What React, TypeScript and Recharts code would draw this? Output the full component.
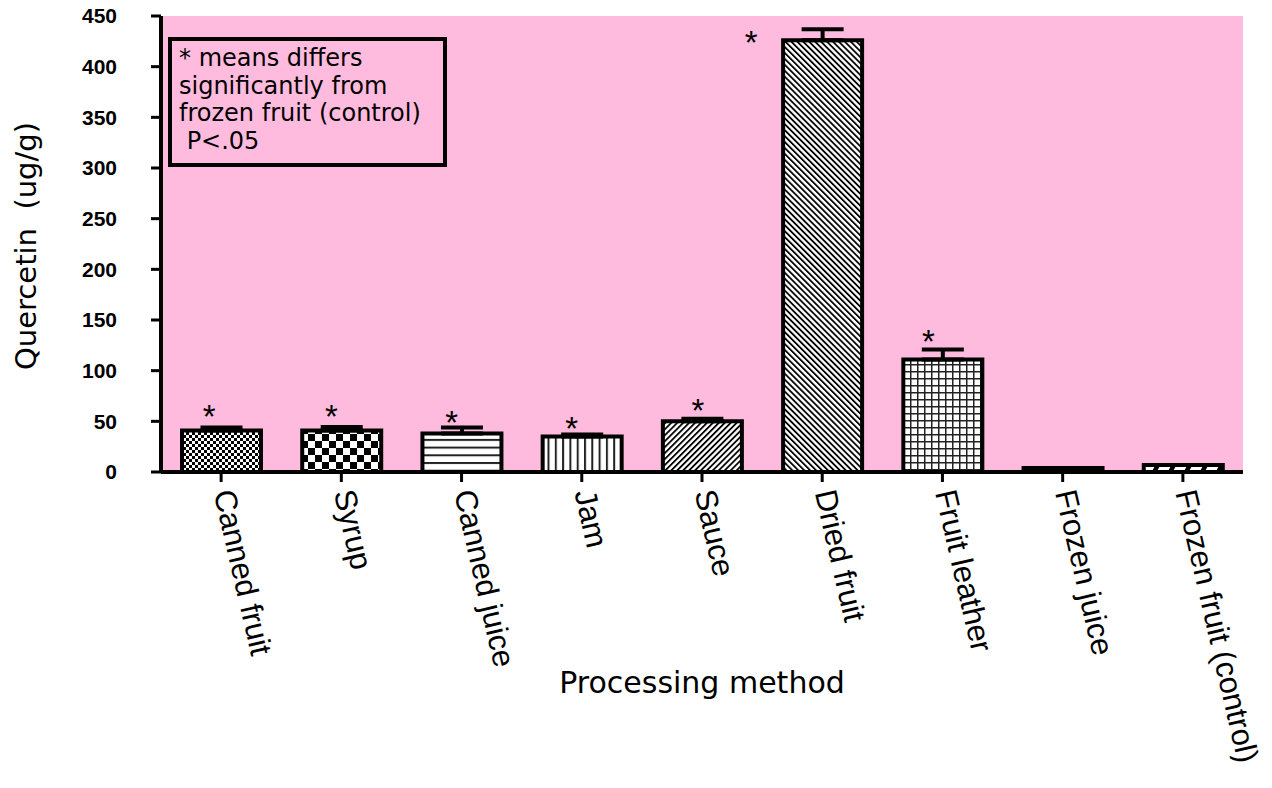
import React from 'react';
import { ComposedChart, Bar, Cell, ErrorBar, Scatter, XAxis, YAxis, CartesianGrid } from 'recharts';

const categories = [
  'Canned fruit',
  'Syrup',
  'Canned juice',
  'Jam',
  'Sauce',
  'Dried fruit',
  'Fruit leather',
  'Frozen juice',
  'Frozen fruit (control)',
];
const quercetin = [41, 41, 38, 35, 50, 426, 111, 4, 7];
const errorUp = [3, 3.5, 6, 2, 2.5, 11, 10, 0, 0];
const asteriskAt: (number | null)[] = [61, 61, 55, 49, 67, 430, 135, null, null];
const yTicks = [0, 50, 100, 150, 200, 250, 300, 350, 400, 450];
const legendLines = ['* means differs', 'significantly from', 'frozen fruit (control)', ' P<.05'];

const patternIds = ['pChkFine', 'pChkCoarse', 'pHoriz', 'pVert', 'pDiagUp', 'pDiagDown', 'pGrid', 'pSolid', 'pDash'];
const starDx = [-12, -10, -10, -10, -4, -71, -14, 0, 0];

const data = categories.map((name, i) => ({
  name,
  value: quercetin[i],
  err: [0, errorUp[i]],
  star: asteriskAt[i],
}));

const PINK = '#ffbbdd';

const XTick = (props: any) => {
  const { x, y, payload } = props;
  const tx = x + 3;
  return (
    <text
      x={tx}
      y={y}
      transform={`rotate(77 ${tx} ${y})`}
      textAnchor="start"
      dy="0.35em"
      fontFamily="'Liberation Sans', Arial, sans-serif"
      fontSize={31}
      fill="#000"
    >
      {payload.value}
    </text>
  );
};

const StarShape = (props: any) => {
  const { cx, cy, payload } = props;
  if (payload == null || payload.star == null) return <g />;
  const i = categories.indexOf(payload.name);
  return (
    <text
      x={cx + starDx[i]}
      y={cy + 18}
      textAnchor="middle"
      fontFamily="'Liberation Sans', Arial, sans-serif"
      fontSize={33}
      fill="#000"
    >
      *
    </text>
  );
};

const YTitle = (props: any) => {
  const vb = props.viewBox || { x: 81, y: 16, width: 80, height: 456 };
  const x = vb.x - 45;
  const y = vb.y + vb.height / 2 + 2;
  return (
    <text
      x={x}
      y={y}
      transform={`rotate(-90 ${x} ${y})`}
      textAnchor="middle"
      fontFamily="'DejaVu Sans', sans-serif"
      fontSize={29}
      fill="#000"
      style={{ whiteSpace: 'pre' }}
    >
      {'Quercetin  (ug/g)'}
    </text>
  );
};

const XTitle = (props: any) => {
  const vb = props.viewBox || { x: 161, y: 472, width: 1082, height: 60 };
  return (
    <text
      x={vb.x + vb.width / 2}
      y={vb.y + 221}
      textAnchor="middle"
      fontFamily="'DejaVu Sans', sans-serif"
      fontSize={30}
      fill="#000"
    >
      Processing method
    </text>
  );
};

const Patterns = () => (
  <svg width={0} height={0} style={{ position: 'absolute' }}>
    <defs>
      <pattern id="pChkFine" width={6} height={6} patternUnits="userSpaceOnUse">
        <rect width={6} height={6} fill="#fff" />
        <rect width={3} height={3} fill="#000" />
        <rect x={3} y={3} width={3} height={3} fill="#000" />
      </pattern>
      <pattern id="pChkCoarse" width={14} height={14} patternUnits="userSpaceOnUse">
        <rect width={14} height={14} fill="#fff" />
        <rect width={7} height={7} fill="#000" />
        <rect x={7} y={7} width={7} height={7} fill="#000" />
      </pattern>
      <pattern id="pHoriz" width={8} height={7.7} patternUnits="userSpaceOnUse">
        <rect width={8} height={7.7} fill="#fff" />
        <rect y={0} width={8} height={2} fill="#222" />
      </pattern>
      <pattern id="pVert" width={7.3} height={8} patternUnits="userSpaceOnUse">
        <rect width={7.3} height={8} fill="#fff" />
        <rect x={0} width={2} height={8} fill="#222" />
      </pattern>
      <pattern id="pDiagUp" width={4.2} height={4.2} patternUnits="userSpaceOnUse" patternTransform="rotate(45)">
        <rect width={4.2} height={4.2} fill="#fff" />
        <rect width={1.8} height={4.2} fill="#000" />
      </pattern>
      <pattern id="pDiagDown" width={4.2} height={4.2} patternUnits="userSpaceOnUse" patternTransform="rotate(-45)">
        <rect width={4.2} height={4.2} fill="#fff" />
        <rect width={1.8} height={4.2} fill="#000" />
      </pattern>
      <pattern id="pGrid" width={7} height={7} patternUnits="userSpaceOnUse">
        <rect width={7} height={7} fill="#fff" />
        <rect width={7} height={1.5} fill="#222" />
        <rect width={1.5} height={7} fill="#222" />
      </pattern>
      <pattern id="pSolid" width={4} height={4} patternUnits="userSpaceOnUse">
        <rect width={4} height={4} fill="#000" />
      </pattern>
      <pattern id="pDash" width={16} height={10} patternUnits="userSpaceOnUse" patternTransform="skewX(-30)">
        <rect width={16} height={10} fill="#fff" />
        <rect width={5} height={10} fill="#000" />
      </pattern>
    </defs>
  </svg>
);

export default function App() {
  return (
    <div style={{ position: 'absolute', left: 0, top: 0, width: 1272, height: 788, background: '#fff' }}>
      <Patterns />
      <ComposedChart
        width={1272}
        height={788}
        data={data}
        margin={{ top: 16, right: 29, left: 81, bottom: 256 }}
      >
        <CartesianGrid fill={PINK} horizontal={false} vertical={false} stroke="none" />
        <XAxis
          dataKey="name"
          type="category"
          height={60}
          interval={0}
          axisLine={{ stroke: '#000', strokeWidth: 4 }}
          tickLine={{ stroke: '#000', strokeWidth: 3 }}
          tickSize={10}
          tickMargin={8}
          tick={<XTick />}
          label={{ content: (p: any) => <XTitle {...p} /> }}
        />
        <YAxis
          type="number"
          domain={[0, 450]}
          ticks={yTicks}
          width={80}
          interval={0}
          axisLine={{ stroke: '#000', strokeWidth: 4 }}
          tickLine={{ stroke: '#000', strokeWidth: 3 }}
          tickSize={10}
          tickMargin={34}
          tick={{ fill: '#000', fontSize: 21, fontWeight: 700, fontFamily: "'Liberation Sans', Arial, sans-serif" }}
          label={{ content: (p: any) => <YTitle {...p} /> }}
        />
        <Bar dataKey="value" barSize={79} stroke="#000" strokeWidth={4} isAnimationActive={false}>
          {data.map((d, i) => (
            <Cell key={d.name} fill={`url(#${patternIds[i]})`} />
          ))}
          <ErrorBar dataKey="err" width={21} strokeWidth={4} stroke="#000" direction="y" isAnimationActive={false} />
        </Bar>
        <Scatter dataKey="star" shape={<StarShape />} isAnimationActive={false} />
      </ComposedChart>
      <div
        style={{
          position: 'absolute',
          left: 168,
          top: 37,
          width: 279,
          height: 130,
          boxSizing: 'border-box',
          border: '4px solid #000',
          paddingLeft: 7,
          paddingTop: 4,
          fontFamily: "'DejaVu Sans', sans-serif",
          fontSize: 24,
          lineHeight: '27.5px',
          whiteSpace: 'pre',
          color: '#000',
        }}
      >
        {legendLines.map((l) => (
          <div key={l}>{l}</div>
        ))}
      </div>
    </div>
  );
}
